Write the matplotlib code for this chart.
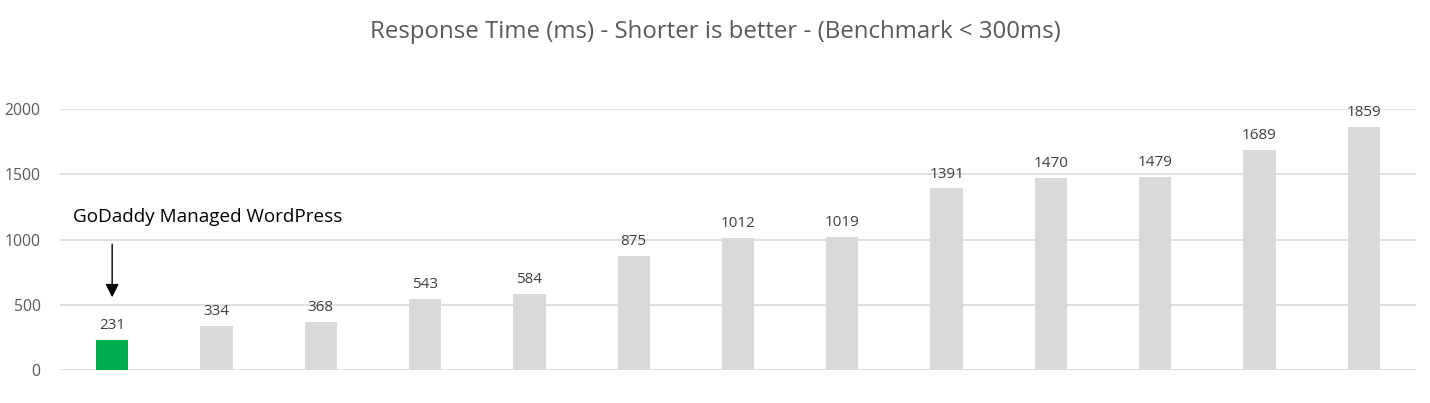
import matplotlib
matplotlib.use("Agg")
import matplotlib.pyplot as plt

values = [231, 334, 368, 543, 584, 875, 1012, 1019, 1391, 1470, 1479, 1689, 1859]
highlight_index = 0
title = "Response Time (ms) - Shorter is better - (Benchmark < 300ms)"
annotation_text = "GoDaddy Managed WordPress"
yticks = [0, 500, 1000, 1500, 2000]

plt.rcParams['font.family'] = ['Open Sans', 'DejaVu Sans']

fig = plt.figure(figsize=(14.3, 4.03), dpi=100)
ax = fig.add_axes([60/1430, 1-370/403, (1416-60)/1430, (370-109)/403])

x = list(range(len(values)))
colors = ['#00b050' if i == highlight_index else '#d9d9d9' for i in x]
ax.bar(x, values, width=0.31, color=colors, zorder=3)

ax.set_xlim(-0.5, len(values) - 0.5)
ax.set_ylim(0, 2000)
ax.set_yticks(yticks)
ax.set_yticklabels([str(t) for t in yticks], fontsize=11.3, color='#595959')
ax.set_xticks([])
ax.tick_params(axis='y', length=0, pad=14)
ax.grid(axis='y', color='#d9d9d9', linewidth=1.2, zorder=0)
for s in ax.spines.values():
    s.set_visible(False)

for i, v in enumerate(values):
    ax.annotate(str(v), (i, v), xytext=(0, 5), textcoords='offset points',
                ha='center', va='bottom', fontsize=11, color='#404040',
                annotation_clip=False)

fig.text(0.5, 1-32/403, title, ha='center', va='center', fontsize=17.3, color='#595959')

ax.annotate('', xy=(highlight_index, 536), xytext=(highlight_index, 985),
            arrowprops=dict(arrowstyle='-|>,head_length=0.5,head_width=0.25',
                            color='black', lw=1, mutation_scale=16))
ax.text(-0.375, 1172, annotation_text, ha='left', va='center', fontsize=13.6, color='black')

fig.savefig('out.png', dpi=100)
